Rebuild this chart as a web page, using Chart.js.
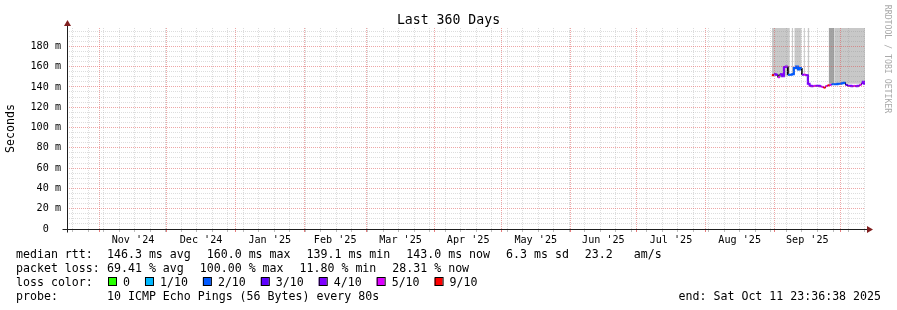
<!DOCTYPE html>
<html>
<head>
<meta charset="utf-8">
<title>Last 360 Days</title>
<script src="https://cdn.jsdelivr.net/npm/chart.js@4.4.1/dist/chart.umd.min.js"></script>
<style>
  html, body { margin: 0; padding: 0; background: #fff; }
  #wrap { width: 897px; height: 310px; }
</style>
</head>
<body>
<div id="wrap"><canvas id="rrd" width="897" height="310"></canvas></div>
<script>
// x = days since graph start (360 days ending Sat Oct 11 23:36:38 2025)
const dayStart = [318.0, 318.9, 319.8, 320.7, 321.6, 322.5, 323.4, 324.3, 325.2, 326.1,
                  327.0, 327.9, 328.8, 329.7, 330.6, 331.5, 332.4, 333.3, 334.2, 335.0,
                  335.9, 336.8, 337.7, 338.6, 339.5, 340.4, 341.3, 342.2, 343.1, 344.0,
                  344.9, 345.8, 346.7, 347.6, 348.5, 349.4, 350.3, 351.2, 352.1, 353.0,
                  353.9, 354.8, 355.7, 356.6, 357.5, 358.4, 359.0, 359.6];
// median rtt in ms
const medianMs = [151.5, 152.5, 152, 149.5, 152.5, 150.5, 159.5, 160, 152, 152,
                  152.5, 158.5, 160, 157, 158.5, 152, 152, 151.5, 143, 141,
                  140.5, 141, 141, 141, 140.5, 140, 139.3, 140.8, 141.5, 142,
                  142.5, 142.5, 142.5, 143, 143, 143.5, 144, 142, 141, 141,
                  140.5, 141, 140.5, 141, 142, 143.5, 145, 143];
// index into lossLabels / lossColors
const lossIdx = [6, 4, 4, 5, 4, 4, 4, 4, 2, 2,
                 2, 2, 2, 2, 2, 4, 5, 4, 4, 4,
                 4, 5, 4, 4, 4, 5, 6, 5, 6, 5,
                 2, 2, 2, 2, 2, 2, 2, 3, 4, 4,
                 4, 5, 4, 4, 5, 4, 4, 4];
const lossLabels = ['0', '1/10', '2/10', '3/10', '4/10', '5/10', '9/10'];
const lossColors = ['#26ff00', '#00b8ff', '#0059ff', '#5e00ff', '#7e00ff', '#dd00ff', '#ff0000'];

// smoke (gray) bands
const smokeFrom  = [318.0, 326.9, 328.1, 332.3, 334.1, 343.6, 346.3];
const smokeTo    = [326.1, 327.6, 331.4, 332.9, 334.9, 346.3, 360.0];
const smokeLow   = [151, 152, 157, 152, 151, 143, 143];
const smokeShade = ['#c8c8c8', '#c8c8c8', '#c8c8c8', '#c8c8c8', '#c8c8c8', '#a3a3a3', '#c8c8c8'];

const monthStart  = [14.57, 44.97, 75.97, 106.97, 134.97, 165.97, 195.97, 226.97, 256.97, 287.97, 318.97, 348.97];
const monthLabels = ["Nov '24", "Dec '24", "Jan '25", "Feb '25", "Mar '25", "Apr '25",
                     "May '25", "Jun '25", "Jul '25", "Aug '25", "Sep '25"];
const firstSunday = 2.57;
const yMaxMs = 198;

const rttStats  = ['146.3 ms avg', '160.0 ms max', '139.1 ms min', '143.0 ms now', '6.3 ms sd', '23.2   am/s'];
const lossStats = ['69.41 % avg', '100.00 % max', '11.80 % min', '28.31 % now'];
const probeText = '10 ICMP Echo Pings (56 Bytes) every 80s';
const endText   = 'end: Sat Oct 11 23:36:38 2025';

const MONO = '"DejaVu Sans Mono", monospace';
const minorGrid = 'rgba(143,143,143,0.3)';
const majorGrid = 'rgba(222,79,79,0.5)';
const clear = 'rgba(0,0,0,0)';

// x ticks: month starts, weekly lines, month labels in the middle
const xTicks = [];
monthStart.forEach(v => xTicks.push({ value: v, kind: 'major' }));
for (let d = firstSunday; d < 360; d += 7) xTicks.push({ value: d, kind: 'minor' });
monthLabels.forEach((t, i) => xTicks.push({ value: (monthStart[i] + monthStart[i + 1]) / 2, kind: 'label', text: t }));
xTicks.sort((a, b) => a.value - b.value);

const yTicks = [];
for (let v = 0; v < yMaxMs; v += 5) yTicks.push({ value: v });

// median as horizontal steps (two points per interval)
const medianSteps = [];
dayStart.forEach((d, i) => {
  const next = i + 1 < dayStart.length ? dayStart[i + 1] : 360;
  medianSteps.push({ x: d, y: medianMs[i] }, { x: next, y: medianMs[i] });
});

const smokeSets = smokeFrom.map((f, i) => ({
  data: [{ x: f, y: yMaxMs }, { x: smokeTo[i], y: yMaxMs }],
  borderWidth: 0,
  pointRadius: 0,
  backgroundColor: smokeShade[i],
  fill: { value: smokeLow[i] },
  order: 2
}));

const rrdFrame = {
  id: 'rrdFrame',
  afterDraw(chart) {
    const { ctx, chartArea: a } = chart;
    const x0 = Math.round(a.left) + 0.5;
    const y0 = Math.round(a.bottom) + 0.5;
    ctx.save();
    // axes
    ctx.strokeStyle = 'rgb(31,31,31)';
    ctx.lineWidth = 1;
    ctx.beginPath();
    ctx.moveTo(x0 - 5, y0); ctx.lineTo(a.right + 3, y0);
    ctx.moveTo(x0, y0 + 3); ctx.lineTo(x0, a.top - 3);
    ctx.stroke();
    ctx.fillStyle = 'rgb(128,31,31)';
    ctx.beginPath();
    ctx.moveTo(a.right + 2, y0 - 3.5); ctx.lineTo(a.right + 8, y0); ctx.lineTo(a.right + 2, y0 + 3.5);
    ctx.closePath(); ctx.fill();
    ctx.beginPath();
    ctx.moveTo(x0 - 3.5, a.top - 2); ctx.lineTo(x0, a.top - 8); ctx.lineTo(x0 + 3.5, a.top - 2);
    ctx.closePath(); ctx.fill();

    // title
    ctx.fillStyle = '#000';
    ctx.font = '13.2px ' + MONO;
    ctx.textAlign = 'center';
    ctx.textBaseline = 'alphabetic';
    ctx.fillText('Last 360 Days', 448.5, 24);

    // watermark
    ctx.save();
    ctx.translate(887, 59);
    ctx.rotate(Math.PI / 2);
    ctx.fillStyle = '#a9a9a9';
    ctx.font = '8.2px ' + MONO;
    ctx.textBaseline = 'middle';
    ctx.fillText('RRDTOOL / TOBI OETIKER', 0, 0);
    ctx.restore();

    // legend block
    const rowY = [257.5, 271.6, 285.7, 299.8];
    ctx.font = '11.6px ' + MONO;
    ctx.textAlign = 'left';
    ctx.fillStyle = '#000';
    ctx.fillText('median rtt:', 16, rowY[0]);
    let x = 107;
    rttStats.forEach(s => { ctx.fillText(s, x, rowY[0]); x += ctx.measureText(s).width + 16; });
    ctx.fillText('packet loss:', 16, rowY[1]);
    x = 107;
    lossStats.forEach(s => { ctx.fillText(s, x, rowY[1]); x += ctx.measureText(s).width + 16; });
    ctx.fillText('loss color:', 16, rowY[2]);
    x = 108;
    lossLabels.forEach((s, i) => {
      ctx.fillStyle = lossColors[i];
      ctx.fillRect(x, 278, 8, 8);
      ctx.strokeStyle = '#000';
      ctx.strokeRect(x + 0.5, 277.5, 8, 8);
      ctx.fillStyle = '#000';
      ctx.fillText(s, x + 15, rowY[2]);
      x += 15 + ctx.measureText(s).width + 15;
    });
    ctx.fillText('probe:', 16, rowY[3]);
    ctx.fillText(probeText, 107, rowY[3]);
    ctx.textAlign = 'right';
    ctx.fillText(endText, 881, rowY[3]);
    ctx.restore();
  }
};

new Chart(document.getElementById('rrd'), {
  type: 'line',
  data: {
    datasets: [
      {
        data: medianSteps,
        borderWidth: 2,
        pointRadius: 0,
        fill: false,
        order: 0,
        segment: {
          borderColor: c => {
            const i = Math.floor(c.p0DataIndex / 2);
            if (c.p0DataIndex % 2 === 0) return lossColors[lossIdx[i]];
            return lossIdx[i] === lossIdx[i + 1] ? lossColors[lossIdx[i]] : clear;
          }
        }
      },
      { data: medianSteps, borderColor: '#000', borderWidth: 1, pointRadius: 0, fill: false, order: 1 },
      ...smokeSets
    ]
  },
  options: {
    responsive: false,
    animation: false,
    layout: { padding: { left: 0, top: 28, right: 32, bottom: 0 } },
    plugins: { legend: { display: false }, title: { display: false }, tooltip: { enabled: false } },
    scales: {
      x: {
        type: 'linear',
        min: 0,
        max: 360,
        afterBuildTicks: s => { s.ticks = xTicks.map(t => ({ ...t })); },
        afterFit: s => { s.height = 81; },
        border: { display: false, dash: [1, 1] },
        grid: {
          z: 1,
          color: c => c.tick && c.tick.kind === 'major' ? majorGrid : (c.tick && c.tick.kind === 'minor' ? minorGrid : clear),
          tickColor: c => c.tick && c.tick.kind === 'major' ? 'rgba(222,79,79,0.75)' : (c.tick && c.tick.kind === 'minor' ? 'rgba(143,143,143,0.6)' : clear),
          tickBorderDash: [],
          tickLength: 3
        },
        ticks: {
          autoSkip: false,
          maxRotation: 0,
          minRotation: 0,
          padding: 2,
          color: '#000',
          font: { family: MONO, size: 10.15 },
          callback: (v, i, ticks) => ticks[i].text || ''
        }
      },
      y: {
        type: 'linear',
        min: 0,
        max: yMaxMs,
        afterBuildTicks: s => { s.ticks = yTicks.map(t => ({ ...t })); },
        afterFit: s => { s.width = 67; },
        border: { display: false, dash: [1, 1] },
        grid: {
          z: 1,
          drawTicks: false,
          color: c => {
            const v = c.tick ? c.tick.value : 0;
            if (v === 0) return clear;
            return v % 20 === 0 ? majorGrid : minorGrid;
          }
        },
        title: {
          display: true,
          text: 'Seconds',
          color: '#000',
          font: { family: MONO, size: 11.6 },
          padding: { top: 4, bottom: 0 }
        },
        ticks: {
          autoSkip: false,
          padding: 6,
          color: '#000',
          font: { family: MONO, size: 10.15 },
          callback: v => v % 20 === 0 ? (v === 0 ? '0  ' : v + ' m') : ''
        }
      }
    }
  },
  plugins: [rrdFrame]
});
</script>
</body>
</html>
